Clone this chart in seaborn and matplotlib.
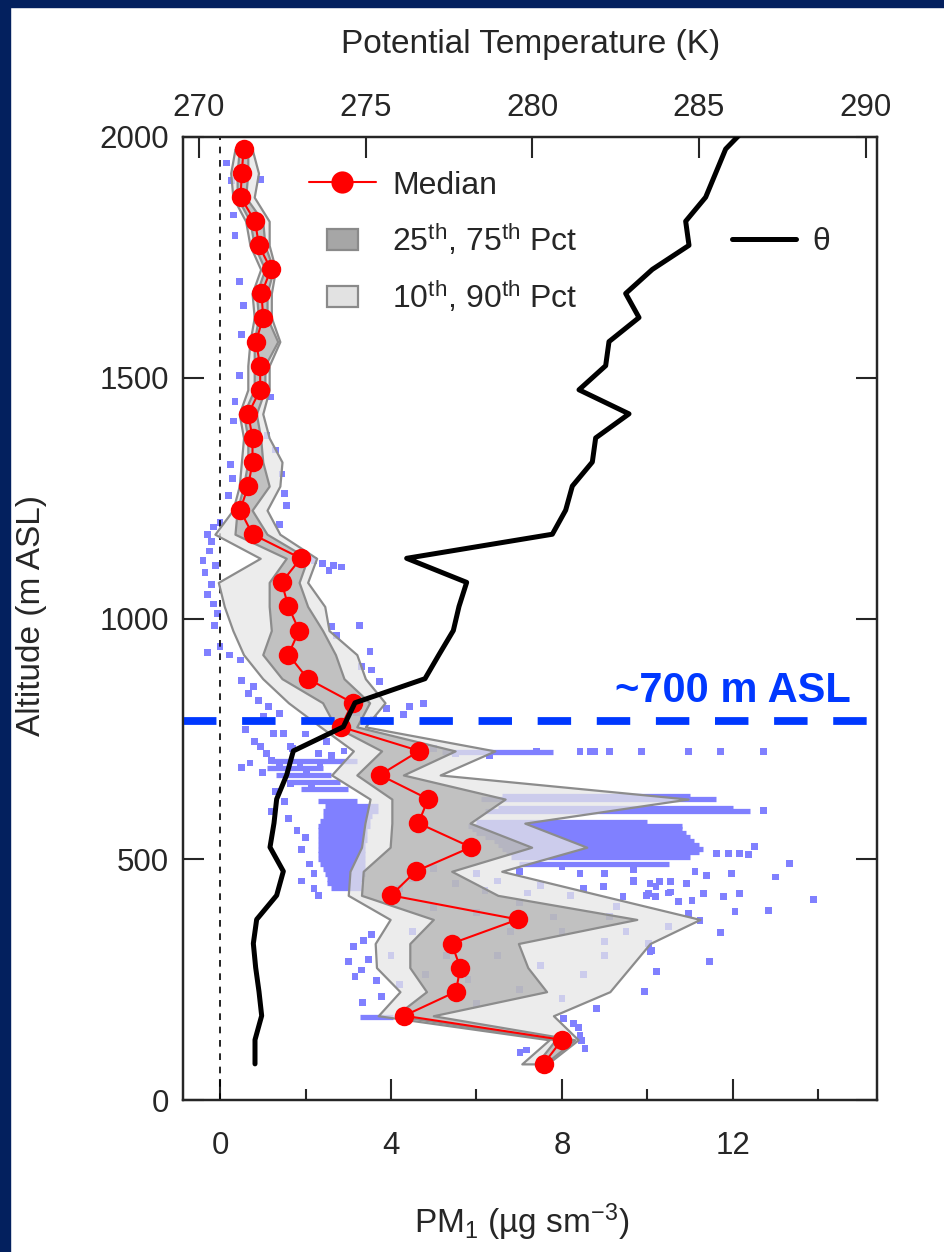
import numpy as np
import pandas as pd
import matplotlib
matplotlib.use("Agg")
import matplotlib.pyplot as plt
import seaborn as sns
from matplotlib.patches import Patch, Rectangle
from matplotlib.lines import Line2D
from matplotlib.legend_handler import HandlerPatch
from matplotlib.ticker import MultipleLocator

# ---------------- data ----------------
altitude = [75, 125, 175, 225, 275, 325, 375, 425, 475, 525, 575, 625, 675, 725, 775,
            825, 875, 925, 975, 1025, 1075, 1125, 1175, 1225, 1275, 1325, 1375, 1425,
            1475, 1525, 1575, 1625, 1675, 1725, 1775, 1825, 1875, 1925, 1975]
pm_median = [7.57, 8.00, 4.31, 5.52, 5.62, 5.42, 6.97, 4.00, 4.58, 5.87, 4.64, 4.87, 3.74,
             4.66, 2.83, 3.10, 2.05, 1.60, 1.85, 1.60, 1.44, 1.89, 0.76, 0.47, 0.66, 0.76,
             0.76, 0.66, 0.94, 0.94, 0.84, 1.01, 0.97, 1.19, 0.91, 0.82, 0.48, 0.51, 0.55]
pm_p10 = [7.06, 7.70, 3.70, 4.21, 3.66, 3.63, 3.98, 3.00, 3.04, 3.31, 3.39, 3.51, 2.61,
          3.12, 2.35, 1.60, 1.00, 0.55, 0.30, 0.10, -0.04, 0.94, -0.12, 0.30, 0.45, 0.50,
          0.55, 0.45, 0.65, 0.65, 0.70, 0.80, 0.75, 0.95, 0.70, 0.60, 0.30, 0.25, 0.35]
pm_p25 = [7.40, 7.85, 4.10, 4.83, 4.44, 4.44, 4.99, 3.31, 3.35, 3.98, 4.02, 4.02, 3.20,
          3.78, 2.70, 2.40, 1.45, 1.00, 1.20, 1.15, 1.15, 1.55, 0.35, 0.40, 0.55, 0.65,
          0.65, 0.55, 0.80, 0.80, 0.80, 0.90, 0.85, 1.05, 0.80, 0.70, 0.40, 0.40, 0.45]
pm_p75 = [7.60, 8.30, 4.99, 7.64, 7.20, 6.98, 9.75, 6.50, 5.42, 7.29, 5.85, 6.67, 4.29,
          5.50, 3.20, 3.50, 2.90, 2.70, 2.40, 2.05, 1.85, 2.05, 1.10, 0.75, 1.15, 1.00,
          0.95, 0.85, 1.05, 1.05, 1.35, 1.10, 1.10, 1.25, 1.05, 1.00, 0.60, 0.65, 0.65]
pm_p90 = [7.66, 8.38, 7.80, 9.12, 9.59, 10.06, 11.23, 8.90, 6.59, 8.58, 7.13, 10.95, 5.15,
          6.43, 3.40, 3.86, 3.40, 3.20, 2.55, 2.45, 2.05, 2.26, 1.40, 1.10, 1.40, 1.45,
          1.15, 1.00, 1.15, 1.15, 1.40, 1.20, 1.20, 1.30, 1.15, 1.15, 0.80, 0.90, 0.75]

theta_alt = [75, 125, 175, 225, 275, 325, 375, 425, 475, 525, 575, 625, 675, 725, 775,
             825, 875, 925, 975, 1025, 1075, 1125, 1175, 1225, 1275, 1325, 1375, 1425,
             1475, 1525, 1575, 1625, 1675, 1725, 1775, 1825, 1875, 1925, 1975, 2025]
theta_k = [271.68, 271.68, 271.88, 271.80, 271.70, 271.63, 271.73, 272.33, 272.53, 272.13,
           272.25, 272.33, 272.63, 272.83, 274.33, 274.68, 276.78, 277.20, 277.63, 277.80,
           278.03, 276.23, 280.60, 281.00, 281.20, 281.80, 281.90, 282.90, 281.40, 282.20,
           282.30, 283.20, 282.80, 283.60, 284.70, 284.60, 285.20, 285.50, 285.80, 286.50]

# individual observations (PM, altitude), read approximately
obs_upper = [(0.16, 1946), (0.27, 1910), (0.94, 1912), (0.31, 1838), (0.35, 1795), (0.45, 1700),
             (0.55, 1650), (0.50, 1590), (0.45, 1505), (0.35, 1450), (0.32, 1410), (1.18, 1460),
             (1.10, 1380), (1.30, 1350), (1.45, 1300), (1.50, 1260), (1.55, 1235), (1.40, 1195),
             (0.25, 1320), (0.30, 1290), (0.20, 1255), (0.00, 1200), (-0.15, 1190), (-0.30, 1175),
             (-0.20, 1160), (-0.25, 1140), (-0.40, 1120), (-0.10, 1110), (-0.35, 1095),
             (-0.20, 1070), (-0.30, 1050), (-0.15, 1030), (-0.05, 1010), (-0.12, 985),
             (-0.30, 930), (0.23, 924), (0.00, 942), (0.47, 914), (0.51, 872), (0.78, 858),
             (0.66, 844), (0.90, 830), (1.13, 817), (1.01, 796), (1.40, 803), (2.20, 1121),
             (2.40, 1115), (2.65, 1110), (2.85, 1107), (2.55, 1100), (3.27, 986), (3.51, 931),
             (3.55, 893), (3.74, 869), (3.31, 900), (2.61, 983), (2.73, 965)]
obs_middle = [(1.25, 761), (0.94, 734), (1.09, 720), (1.48, 761), (1.64, 734), (1.40, 692),
              (1.87, 699), (2.03, 678), (1.64, 657), (2.14, 650), (2.34, 692), (3.90, 813),
              (4.44, 817), (4.76, 824), (4.30, 800), (3.60, 790), (3.20, 805), (0.60, 770),
              (0.80, 745), (1.20, 705), (0.70, 700), (0.50, 690), (1.00, 680), (1.30, 640),
              (1.50, 620), (1.20, 600), (1.60, 585), (1.80, 560), (2.00, 545), (1.90, 520),
              (2.10, 490), (2.20, 470), (1.90, 455), (2.20, 440), (2.30, 425), (2.3, 720),
              (2.6, 715), (2.9, 725), (1.7, 730), (2.0, 760), (2.5, 745), (2.8, 780),
              (5.5, 720), (6.3, 715), (7.4, 725), (5.0, 730)]
obs_right = [(8.42, 723), (8.66, 723), (8.77, 723), (9.12, 723), (9.86, 723), (10.96, 723),
             (11.70, 723), (12.71, 723), (12.71, 601), (11.62, 512), (11.89, 512), (12.16, 512),
             (12.36, 510), (12.51, 527), (13.33, 491), (13.00, 463), (13.88, 416), (12.83, 394),
             (12.05, 391), (11.70, 348), (11.46, 288), (10.21, 267), (9.94, 225), (11.23, 373),
             (10.96, 387), (12.16, 429), (11.78, 422), (11.31, 429), (11.97, 470), (11.39, 467),
             (11.11, 474), (10.92, 450), (10.53, 453), (10.29, 453), (10.06, 450), (9.67, 453),
             (8.42, 470), (9.67, 478), (10.02, 429), (10.18, 422), (10.53, 432), (10.72, 412),
             (11.04, 415), (10.10, 310), (8.97, 443), (9.43, 422), (9.67, 457), (9.98, 425),
             (10.20, 443), (10.50, 430), (10.20, 266), (10.06, 308), (10.02, 325), (9.28, 402),
             (9.12, 381)]
obs_lower = [(3.00, 287), (3.16, 256), (3.35, 332), (3.55, 343), (3.12, 318), (3.31, 270),
             (3.47, 291), (3.66, 249), (3.78, 215), (3.34, 202), (7.02, 98), (7.17, 104),
             (8.38, 150), (8.46, 124), (8.54, 107), (8.27, 159), (8.42, 135), (8.03, 170),
             (5.0, 400), (6.0, 390), (7.0, 410), (8.0, 350), (9.0, 330), (6.5, 300), (7.5, 280),
             (8.5, 260), (5.8, 250), (7.0, 230), (8.0, 210), (6.0, 200), (4.8, 260), (4.5, 350),
             (9.0, 300), (7.8, 380), (6.8, 350), (5.3, 300), (4.2, 240), (8.8, 190), (9.5, 350),
             (10.5, 360), (4.0, 300), (4.5, 460), (5.5, 450), (6.5, 455), (7.5, 445), (8.5, 440),
             (5.0, 480), (6.0, 470), (7.0, 475), (8.0, 485), (9.0, 470), (4.2, 440), (6.2, 435),
             (7.2, 430), (8.2, 425)]

# dense horizontal streaks of observations: altitude, PM range
streak_alt = [172, 440, 450, 460, 470, 480, 490, 500, 510, 520, 530, 540, 550, 560, 570,
              580, 590, 600, 610, 620, 645, 660, 675, 690, 705, 723,
              490, 505, 515, 522, 530, 538, 546, 555, 563, 570, 578, 600, 606, 625, 632]
streak_lo = [3.27, 2.60, 2.50, 2.50, 2.45, 2.40, 2.35, 2.30, 2.30, 2.30, 2.30, 2.30, 2.30,
             2.30, 2.30, 2.35, 2.40, 2.40, 2.45, 2.30, 1.90, 1.60, 1.30, 1.10, 1.20, 5.20,
             7.00, 6.80, 6.70, 6.60, 6.50, 6.40, 6.20, 6.00, 5.90, 5.80, 6.00, 6.20, 6.50,
             6.10, 6.60]
streak_hi = [4.05, 3.30, 3.30, 3.35, 3.40, 3.40, 3.40, 3.40, 3.40, 3.40, 3.40, 3.45, 3.45,
             3.45, 3.50, 3.50, 3.55, 3.70, 3.70, 3.20, 3.00, 2.80, 2.60, 2.40, 3.20, 7.80,
             10.50, 11.00, 11.20, 11.30, 11.20, 11.10, 11.00, 10.90, 10.80, 10.80, 10.00,
             12.40, 12.00, 11.60, 11.00]

pm_ticks = [0, 4, 8, 12]
alt_ticks = [0, 500, 1000, 1500, 2000]
theta_ticks = [270, 275, 280, 285, 290]

obs = pd.DataFrame(obs_upper + obs_middle + obs_right + obs_lower, columns=["pm", "alt"])

# ---------------- style ----------------
sns.set_style("ticks")
plt.rcParams["font.family"] = ["Liberation Sans", "DejaVu Sans"]
plt.rcParams["mathtext.fontset"] = "custom"
plt.rcParams["mathtext.rm"] = "Liberation Sans"
plt.rcParams["mathtext.it"] = "Liberation Sans:italic"
plt.rcParams["mathtext.bf"] = "Liberation Sans:bold"

W, H = 945, 1252
fig = plt.figure(figsize=(W / 100, H / 100), dpi=100)
fig.patch.set_facecolor("white")
navy = "#03205e"
fig.patches.append(Rectangle((0, 0), 10 / W, 1, transform=fig.transFigure, color=navy, zorder=0))
fig.patches.append(Rectangle((0, 1 - 7 / H), 1, 7 / H, transform=fig.transFigure, color=navy, zorder=0))

L, R, T, B = 183, 877, 137, 1100
ax = fig.add_axes([L / W, 1 - B / H, (R - L) / W, (B - T) / H])

pt_color = "#8080ff"
ax.hlines(streak_alt, streak_lo, streak_hi, colors=pt_color, linewidth=3.8, zorder=1)
sns.scatterplot(data=obs, x="pm", y="alt", marker="s", s=24, color=pt_color, edgecolor="none",
                linewidth=0, ax=ax, zorder=1, legend=False)

light_fc = (0.90, 0.90, 0.90, 0.75)
dark_fc = (0.66, 0.66, 0.66, 0.62)
edge_c = (0.55, 0.55, 0.55, 1.0)
ax.fill_betweenx(altitude, pm_p10, pm_p90, facecolor=light_fc, edgecolor=edge_c,
                 linewidth=1.6, zorder=2)
ax.fill_betweenx(altitude, pm_p25, pm_p75, facecolor=dark_fc, edgecolor=edge_c,
                 linewidth=1.6, zorder=3)

ax.axvline(0, color="black", lw=1.2, ls=(0, (4, 4)), zorder=1)
ax.axhline(787, color="#0038ff", lw=5.6, ls=(0, (4.3, 3.3)), zorder=4)
ax.text(12.0, 850, "~700 m ASL", color="#0038ff", fontsize=30, fontweight="bold",
        ha="center", va="center", zorder=6)

sns.lineplot(x=pm_median, y=altitude, sort=False, estimator=None, color="red", lw=1.5,
             marker="o", markersize=14, markeredgewidth=0, ax=ax, zorder=5)

ax.set_xlim(-0.866, 15.37)
ax.set_ylim(0, 2000)
ax.set_xticks(pm_ticks)
ax.set_xticklabels([str(t) for t in pm_ticks])
ax.xaxis.set_minor_locator(MultipleLocator(2))
ax.set_yticks(alt_ticks)
ax.set_yticklabels([str(t) for t in alt_ticks])
ax.tick_params(axis="both", which="major", direction="in", length=15, width=1.5,
               labelsize=22.5, right=True, top=False, pad=10)
ax.tick_params(axis="x", which="major", pad=22)
ax.tick_params(axis="x", which="minor", direction="in", length=8, width=1.5, top=False)
for s in ax.spines.values():
    s.set_linewidth(1.6)
    s.set_color("black")
ax.set_xlabel("")
ax.set_ylabel("")

ax2 = ax.twiny()
sns.lineplot(x=theta_k, y=theta_alt, sort=False, estimator=None, color="black", lw=3.6,
             ax=ax2, zorder=7)
ax2.set_xlim(269.52, 290.34)
ax2.set_ylim(0, 2000)
ax2.set_xticks(theta_ticks)
ax2.set_xticklabels([str(t) for t in theta_ticks])
ax2.tick_params(axis="x", which="major", direction="in", length=15, width=1.5,
                labelsize=22.5, top=True, bottom=False, pad=10)
ax2.set_xlabel("")
ax2.set_ylabel("")
for s in ax2.spines.values():
    s.set_linewidth(1.6)

fig.text(531 / W, 1 - 45 / H, "Potential Temperature (K)", fontsize=24, ha="center", va="center")
fig.text(522 / W, 1 - 1222 / H, r"PM$_1$ (µg sm$^{-3}$)", fontsize=24, ha="center", va="center")
fig.text(32 / W, 1 - 615 / H, "Altitude (m ASL)", fontsize=24, rotation=90, ha="center", va="center")


class SmallRect(HandlerPatch):
    def __init__(self):
        super().__init__(patch_func=self.make)

    @staticmethod
    def make(legend, orig_handle, xdescent, ydescent, width, height, fontsize):
        w = width * 0.45
        h = height * 0.95
        return Rectangle((-xdescent + (width - w) / 2, -ydescent + (height - h) / 2), w, h)


h_med = Line2D([], [], color="red", lw=1.5, marker="o", markersize=16, markeredgewidth=0)
h_iqr = Patch(facecolor="#a6a6a6", edgecolor="#8a8a8a", linewidth=1.6)
h_dec = Patch(facecolor="#e2e2e2", edgecolor="#8a8a8a", linewidth=1.6)
leg = ax.legend([h_med, h_iqr, h_dec],
                ["Median", r"25$^{\mathrm{th}}$, 75$^{\mathrm{th}}$ Pct",
                 r"10$^{\mathrm{th}}$, 90$^{\mathrm{th}}$ Pct"],
                loc="upper left", bbox_to_anchor=(0.14, 0.995), frameon=False, fontsize=23,
                handlelength=2.1, handletextpad=0.5, labelspacing=0.66,
                handler_map={Patch: SmallRect()})
leg.set_zorder(10)

h_th = Line2D([], [], color="black", lw=3.6)
leg2 = ax2.legend([h_th], ["θ"], loc="upper left", bbox_to_anchor=(0.75, 0.936),
                  frameon=False, fontsize=23, handlelength=2.0, handletextpad=0.5)

fig.savefig("out.png", dpi=100)
